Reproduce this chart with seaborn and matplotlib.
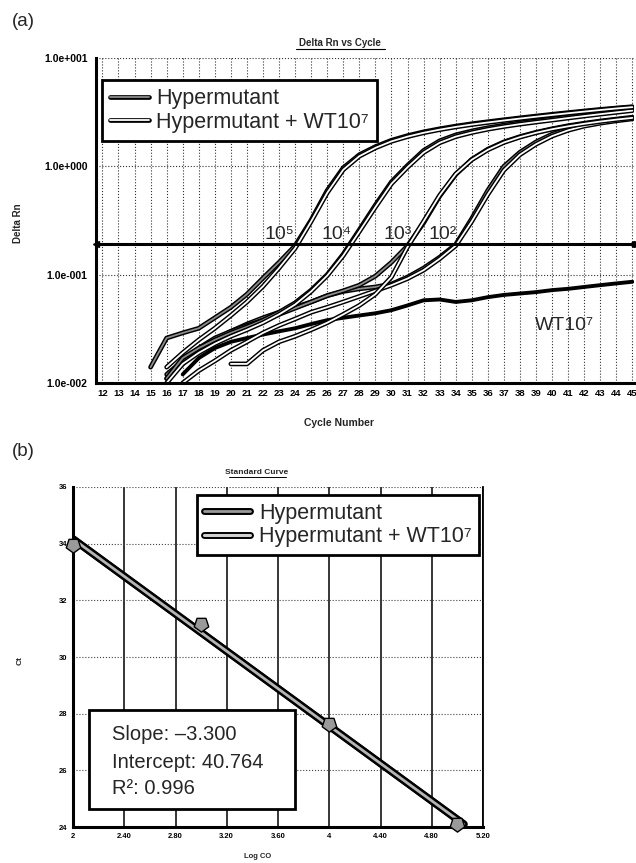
import numpy as np
import pandas as pd
import matplotlib
matplotlib.use("Agg")
import matplotlib.pyplot as plt
import matplotlib.patheffects as pe
from matplotlib.lines import Line2D
from matplotlib.patches import Rectangle
import seaborn as sns

# ---------------- (a) amplification plot data: Delta Rn per cycle ----------------
hyp_1e5_start = 15
hyp_1e5 = [0.014, 0.026, 0.029, 0.032, 0.040, 0.050, 0.066, 0.093, 0.13, 0.185,
           0.32, 0.60, 0.97, 1.28, 1.52, 1.74, 1.92, 2.08, 2.22, 2.35,
           2.47, 2.58, 2.69, 2.80, 2.91, 3.02, 3.13, 3.24, 3.35, 3.45, 3.55]
hypwt_1e5_start = 16
hypwt_1e5 = [0.014, 0.019, 0.025, 0.032, 0.042, 0.056, 0.078, 0.115, 0.175, 0.31,
             0.57, 0.93, 1.24, 1.48, 1.70, 1.88, 2.04, 2.18, 2.31, 2.43,
             2.54, 2.65, 2.76, 2.87, 2.98, 3.09, 3.20, 3.31, 3.42, 3.52]
hyp_1e4_start = 16
hyp_1e4 = [0.011, 0.017, 0.021, 0.025, 0.029, 0.033, 0.038, 0.045, 0.055, 0.072,
           0.10, 0.155, 0.26, 0.44, 0.72, 1.02, 1.40, 1.72, 1.95, 2.12,
           2.27, 2.40, 2.52, 2.63, 2.75, 2.88, 3.00, 3.12, 3.24, 3.36]
hypwt_1e4_start = 16
hypwt_1e4 = [0.010, 0.015, 0.019, 0.023, 0.027, 0.031, 0.036, 0.043, 0.053, 0.070,
             0.098, 0.15, 0.25, 0.42, 0.69, 0.98, 1.34, 1.65, 1.88, 2.05,
             2.20, 2.33, 2.45, 2.56, 2.67, 2.79, 2.91, 3.03, 3.15, 3.27]
hyp_1e3_start = 16
hyp_1e3 = [0.012, 0.016, 0.021, 0.026, 0.030, 0.034, 0.038, 0.043, 0.049, 0.056,
           0.064, 0.071, 0.080, 0.097, 0.13, 0.185, 0.30, 0.53, 0.84, 1.16,
           1.44, 1.68, 1.88, 2.06, 2.22, 2.37, 2.50, 2.62, 2.73, 2.84]
hypwt_1e3_start = 20
hypwt_1e3 = [0.015, 0.015, 0.020, 0.024, 0.027, 0.031, 0.036, 0.043, 0.052, 0.066,
             0.095, 0.18, 0.31, 0.54, 0.85, 1.15, 1.42, 1.66, 1.86, 2.04,
             2.20, 2.34, 2.47, 2.59, 2.70, 2.80]
hyp_1e2_start = 16
hyp_1e2 = [0.011, 0.015, 0.020, 0.025, 0.030, 0.035, 0.040, 0.045, 0.050, 0.056,
           0.064, 0.070, 0.074, 0.077, 0.082, 0.095, 0.115, 0.145, 0.19, 0.33,
           0.60, 1.00, 1.35, 1.68, 1.98, 2.22, 2.40, 2.55, 2.67, 2.78]
hypwt_1e2_start = 17
hypwt_1e2 = [0.010, 0.013, 0.016, 0.020, 0.024, 0.029, 0.034, 0.039, 0.045, 0.050,
             0.056, 0.063, 0.071, 0.080, 0.092, 0.11, 0.14, 0.185, 0.31, 0.55,
             0.92, 1.28, 1.60, 1.90, 2.15, 2.35, 2.50, 2.63, 2.74]
wt_1e7_start = 17
wt_1e7 = [0.012, 0.017, 0.021, 0.024, 0.026, 0.028, 0.030, 0.032, 0.035, 0.038,
          0.040, 0.042, 0.044, 0.047, 0.052, 0.058, 0.059, 0.056, 0.058, 0.062,
          0.065, 0.067, 0.069, 0.072, 0.074, 0.077, 0.080, 0.083, 0.086]

threshold = 0.19
cycle_ticks = list(range(12, 46))
rn_ticks = [0.01, 0.1, 1, 10]
rn_tick_labels = ["1.0e-002", "1.0e-001", "1.0e+000", "1.0e+001"]
copy_labels = ["10\u2075", "10\u2074", "10\u00b3", "10\u00b2"]
copy_label_cycles = [23.0, 26.6, 30.4, 33.2]

# ---------------- (b) standard curve data ----------------
log_co = [2.0, 3.0, 4.0, 5.0]
ct_values = [33.95, 31.15, 27.65, 24.11]
slope = -3.300
intercept = 40.764
r_squared = 0.996
fit_range = [2.0, 5.05]
logco_ticks = [2.0, 2.4, 2.8, 3.2, 3.6, 4.0, 4.4, 4.8, 5.2]
logco_tick_labels = ["2", "2.40", "2.80", "3.20", "3.60", "4", "4.40", "4.80", "5.20"]
ct_ticks = [24, 26, 28, 30, 32, 34, 36]

legend_labels = ["Hypermutant", "Hypermutant + WT10\u2077"]

sns.set_theme(style="white")
plt.rcParams["font.family"] = ["Liberation Sans", "DejaVu Sans"]
plt.rcParams["axes.unicode_minus"] = False

fig = plt.figure(figsize=(6.36, 8.63), dpi=100)
fig.patch.set_facecolor("white")

# ---------------- panel (a) ----------------
ax1 = fig.add_axes([0.1509, 0.5562, 0.8459, 0.3766])

hyp_fx = [pe.Stroke(linewidth=3.4, foreground="black"), pe.Normal()]
wt_mix_fx = [pe.Stroke(linewidth=3.4, foreground="black"), pe.Normal()]


def draw_curve(ax, start, values, inner, fx, lw=1.3):
    cyc = np.arange(start, start + len(values))
    df = pd.DataFrame({"cycle": cyc, "rn": values})
    sns.lineplot(data=df, x="cycle", y="rn", ax=ax, color=inner, lw=lw,
                 legend=False)
    line = ax.lines[-1]
    if fx is not None:
        line.set_path_effects(fx)
    return line


draw_curve(ax1, wt_1e7_start, wt_1e7, "black", None, lw=2.8)
for st, vals in [(hyp_1e2_start, hyp_1e2), (hyp_1e3_start, hyp_1e3),
                 (hyp_1e4_start, hyp_1e4), (hyp_1e5_start, hyp_1e5)]:
    draw_curve(ax1, st, vals, "#8c8c8c", hyp_fx)
for st, vals in [(hypwt_1e2_start, hypwt_1e2), (hypwt_1e3_start, hypwt_1e3),
                 (hypwt_1e4_start, hypwt_1e4), (hypwt_1e5_start, hypwt_1e5)]:
    draw_curve(ax1, st, vals, "white", wt_mix_fx)

ax1.axhline(threshold, color="black", lw=2.2, zorder=4)
ax1.plot([11.6], [threshold], marker="<", ms=5, color="black", clip_on=False, zorder=5)
ax1.plot([45.1], [threshold], marker="o", ms=4, color="black", clip_on=False, zorder=5)

ax1.set_yscale("log")
ax1.set_xlim(11.6, 45.1)
ax1.set_ylim(0.01, 10)
ax1.set_xticks(cycle_ticks)
ax1.set_xticklabels([str(c) for c in cycle_ticks], fontsize=6.8, fontweight="bold")
ax1.set_yticks(rn_ticks)
ax1.set_yticklabels(rn_tick_labels, fontsize=7.5, fontweight="bold")
ax1.minorticks_off()
ax1.tick_params(axis="x", length=0, pad=4, colors="black")
ax1.tick_params(axis="y", length=0, pad=6, colors="black")
ax1.grid(True, which="major", ls=":", lw=0.8, color="#333333")
ax1.set_xlabel("")
ax1.set_ylabel("")
for side in ["top", "right"]:
    ax1.spines[side].set_visible(False)
for side in ["left", "bottom"]:
    ax1.spines[side].set_color("black")
    ax1.spines[side].set_linewidth(2.2)

for lab, cx in zip(copy_labels, copy_label_cycles):
    ax1.text(cx, 0.212, lab, fontsize=14, ha="center", va="baseline",
             family=["Liberation Sans", "DejaVu Sans"], zorder=6)
ax1.text(40.8, 0.031, "WT10\u2077", fontsize=14, ha="center", va="baseline",
         family=["Liberation Sans", "DejaVu Sans"], zorder=6)

h_handle = Line2D([], [], color="#8c8c8c", lw=1.3, path_effects=hyp_fx)
w_handle = Line2D([], [], color="white", lw=1.3, path_effects=wt_mix_fx)
leg1 = ax1.legend([h_handle, w_handle], legend_labels, loc="upper left",
                  bbox_to_anchor=(0.011, 0.932), borderaxespad=0, fontsize=15.5,
                  frameon=True, fancybox=False, framealpha=1, edgecolor="black",
                  handlelength=1.8, handletextpad=0.35, labelspacing=0.12,
                  borderpad=0.38)
leg1.get_frame().set_linewidth(2.0)
leg1.set_zorder(10)

fig.text(340 / 636, 1 - 43 / 863, "Delta Rn vs Cycle", fontsize=7, fontweight="bold",
         ha="center", va="center")
fig.add_artist(Line2D([296 / 636, 385 / 636], [1 - 49 / 863, 1 - 49 / 863],
                      color="black", lw=0.8))
fig.text(18 / 636, 1 - 223 / 863, "Delta Rn", fontsize=7, fontweight="bold",
         rotation=90, ha="center", va="center")
fig.text(339 / 636, 1 - 423 / 863, "Cycle Number", fontsize=7.5, fontweight="bold",
         ha="center", va="center")
fig.text(23 / 636, 1 - 22 / 863, "(a)", fontsize=13.5, ha="center", va="center")

# ---------------- panel (b) ----------------
ax2 = fig.add_axes([0.1148, 0.0417, 0.6447, 0.394])

fit_y = [intercept + slope * x for x in fit_range]
sns.lineplot(x=fit_range, y=fit_y, ax=ax2, color="white", lw=2.4, legend=False)
ax2.lines[-1].set_path_effects([pe.Stroke(linewidth=5.6, foreground="black"), pe.Normal()])
sns.lineplot(x=fit_range, y=fit_y, ax=ax2, color="#b5b5b5", lw=2.0, legend=False)
ax2.lines[-1].set_path_effects([pe.Stroke(linewidth=5.2, foreground="black"), pe.Normal()])

pent_down = (5, 0, 180)
sns.scatterplot(x=log_co, y=ct_values, ax=ax2, marker=pent_down, s=120,
                color="#9a9a9a", edgecolor="black", linewidth=1.0, zorder=6,
                clip_on=False, legend=False)

ax2.set_xlim(2.0, 5.2)
ax2.set_ylim(24, 36)
ax2.set_xticks(logco_ticks)
ax2.set_xticklabels(logco_tick_labels, fontsize=5.5, fontweight="bold")
ax2.set_yticks(ct_ticks)
ax2.set_yticklabels([str(t) for t in ct_ticks], fontsize=5.5, fontweight="bold")
ax2.tick_params(axis="both", length=0, pad=4, colors="black")
ax2.grid(True, axis="x", ls="-", lw=1.1, color="black")
ax2.grid(True, axis="y", ls=":", lw=0.8, color="#444444")
ax2.set_xlabel("")
ax2.set_ylabel("")
ax2.spines["top"].set_visible(False)
ax2.spines["right"].set_color("black")
ax2.spines["right"].set_linewidth(1.3)
for side in ["left", "bottom"]:
    ax2.spines[side].set_color("black")
    ax2.spines[side].set_linewidth(2.2)

h2 = Line2D([], [], color="#9a9a9a", lw=2.0,
            path_effects=[pe.Stroke(linewidth=5.0, foreground="black"), pe.Normal()])
w2 = Line2D([], [], color="#d0d0d0", lw=2.2,
            path_effects=[pe.Stroke(linewidth=5.0, foreground="black"), pe.Normal()])
leg2 = ax2.legend([h2, w2], legend_labels, loc="upper left",
                  bbox_to_anchor=(0.302, 0.976), borderaxespad=0, fontsize=15.5,
                  frameon=True, fancybox=False, framealpha=1, edgecolor="black",
                  handlelength=2.1, handletextpad=0.45, labelspacing=0.12,
                  borderpad=0.35)
leg2.get_frame().set_linewidth(2.0)
leg2.set_zorder(10)

ax2.add_patch(Rectangle((0.039, 0.053), 0.502, 0.291, transform=ax2.transAxes,
                        facecolor="white", edgecolor="black", lw=2.0, zorder=8))
stats_lines = [f"Slope: \u2013{abs(slope):.3f}", f"Intercept: {intercept:.3f}",
               f"R\u00b2: {r_squared:.3f}"]
for txt, yy in zip(stats_lines, [0.271, 0.191, 0.113]):
    ax2.text(0.095, yy, txt, transform=ax2.transAxes, fontsize=14.5,
             ha="left", va="center", zorder=9,
             family=["Liberation Sans", "DejaVu Sans"])

fig.text(257 / 636, 1 - 472 / 863, "Standard Curve", fontsize=6, fontweight="bold",
         ha="center", va="center")
fig.add_artist(Line2D([229 / 636, 286 / 636], [1 - 477 / 863, 1 - 477 / 863],
                      color="black", lw=0.7))
fig.text(20 / 636, 1 - 660 / 863, "Ct", fontsize=6, fontweight="bold",
         rotation=90, ha="center", va="center")
fig.text(258 / 636, 1 - 856 / 863, "Log CO", fontsize=5.5, fontweight="bold",
         ha="center", va="center")
fig.text(23 / 636, 1 - 451 / 863, "(b)", fontsize=13.5, ha="center", va="center")

fig.savefig("out.png", dpi=100, facecolor="white")
